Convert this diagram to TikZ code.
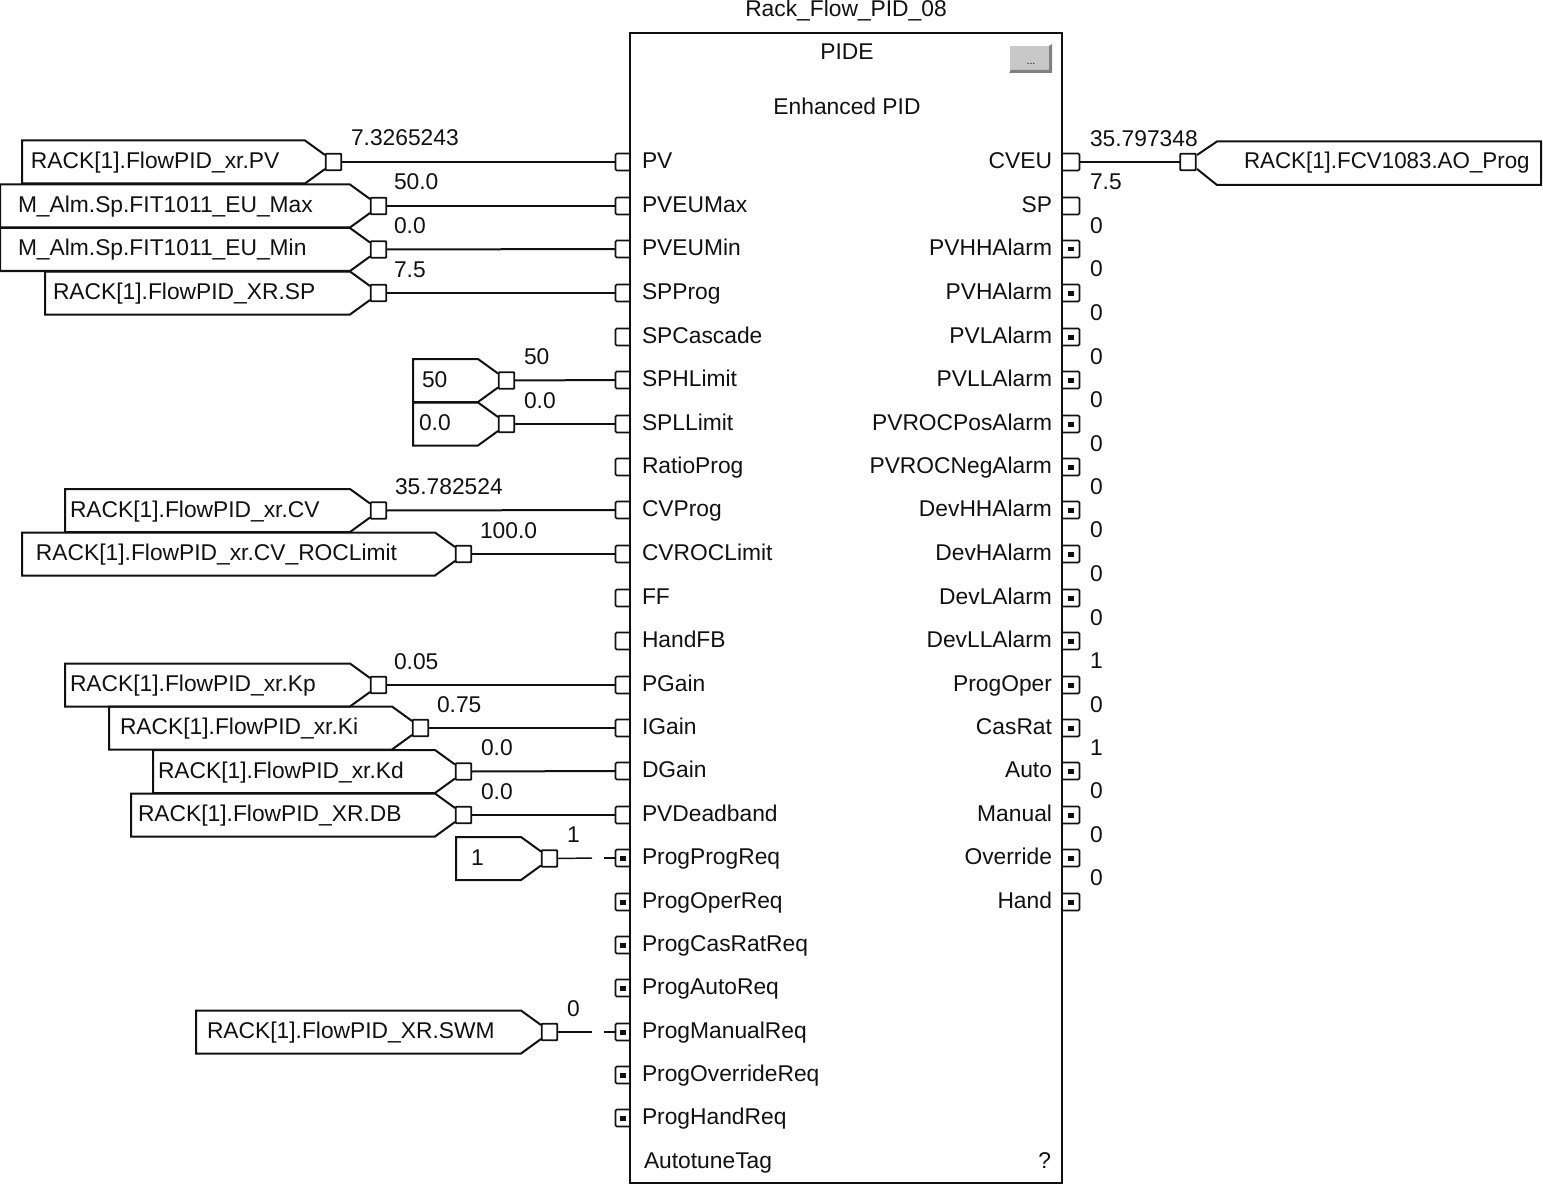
\documentclass[tikz,border=0pt]{standalone}
\usepackage{fontspec}
\setmainfont{Liberation Sans}
\definecolor{ink}{HTML}{111111}
\definecolor{btn}{HTML}{C8C8C8}
\definecolor{btnd}{HTML}{808080}
\tikzset{
  lab/.style={inner sep=0pt,outer sep=0pt,text=ink,font=\fontsize{17.1pt}{20pt}\selectfont},
  sq/.style={draw=ink,line width=1.4pt,rectangle,rounded corners=0.6pt,minimum width=11.6pt,minimum height=12.4pt,inner sep=0pt,outer sep=0pt},
  outl/.style={draw=ink,line width=1.5pt},
  wire/.style={draw=ink,line width=1.5pt},
  thinwire/.style={draw=ink,line width=1.1pt},
  pinl/.style={draw=ink,line width=1.2pt,rounded corners=1pt},
}
% left input pin
\newcommand{\lpin}[4]{% id, row, kind(0 open,1 bool), text
  \coordinate (lp#1) at (615.5,#2);
  \draw[pinl] (630,#2-8.5) -- (615.5,#2-8.5) -- (615.5,#2+8.5) -- (630,#2+8.5);
  \ifnum#3=1 \fill[ink] (619.5,#2-2) rectangle (625.5,#2+2.5);\fi
  \node[lab,anchor=base west] (lt#1) at (642,#2+6.5) {#4};
}
% right output pin
\newcommand{\rpin}[5]{% id, row, kind, text, value
  \coordinate (rp#1) at (1079,#2);
  \draw[pinl] (1063,#2-8.5) -- (1079.5,#2-8.5) -- (1079.5,#2+8.5) -- (1063,#2+8.5);
  \ifnum#3=1 \fill[ink] (1068,#2-2) rectangle (1074,#2+2.5);\fi
  \node[lab,anchor=base east] (rt#1) at (1052,#2+6.5) {#4};
  \node[lab,anchor=base west] (rv#1) at (1090,#2+27.5) {#5};
}
% input tag: id,left,row,diag,textx,text,valx,value
\newcommand{\intag}[8]{%
  \draw[outl] (#4+20,#3-7) -- (#4,#3-21.5) -- (#2,#3-21.5) -- (#2,#3+21.5) -- (#4,#3+21.5) -- (#4+20,#3+7);
  \node[sq] (s#1) at (#4+28.5,#3) {};
  \node[lab,anchor=base west] (tt#1) at (#5,#3+6.5) {#6};
  \node[lab,anchor=base west] (tv#1) at (#7,#3-16) {#8};
}
\begin{document}
\begin{tikzpicture}[x=0.75pt,y=-0.75pt]
\useasboundingbox (0,0) rectangle (1543,1184);
% block
\draw[draw=ink,line width=1.2pt] (630,33) rectangle (1062,1183);
\node[lab,anchor=base] (title) at (846,16.5) {Rack\_Flow\_PID\_08};
\node[lab,anchor=base] (pide) at (847,60) {PIDE};
\node[lab,anchor=base] (enh) at (847,114.5) {Enhanced PID};
% button
\fill[btn] (1010,46) rectangle (1052,72);
\fill[btnd] (1049,46) -- (1052,44) -- (1052,73) -- (1009,73) -- (1011,70) -- (1049,70) -- cycle;
\node[inner sep=0pt,text=ink,font=\fontsize{8pt}{9pt}\selectfont] (dots) at (1031,64) {...};
% left pins
\foreach \i/\r/\k/\t in {1/162/0/PV,2/206/0/PVEUMax,3/249/0/PVEUMin,4/293/0/SPProg,5/337/0/SPCascade,6/380/0/SPHLimit,7/424/0/SPLLimit,8/467/0/RatioProg,9/510/0/CVProg,10/554/0/CVROCLimit,11/598/0/FF,12/641/0/HandFB,13/685/0/PGain,14/728/0/IGain,15/771/0/DGain,16/815/0/PVDeadband,17/858/1/ProgProgReq,18/902/1/ProgOperReq,19/945/1/ProgCasRatReq,20/988/1/ProgAutoReq,21/1032/1/ProgManualReq,22/1075/1/ProgOverrideReq,23/1118/1/ProgHandReq}{
  \lpin{\i}{\r}{\k}{\t}
}
\node[lab,anchor=base west] (auto) at (644,1168) {AutotuneTag};
\node[lab,anchor=base east] (q) at (1051,1168) {?};
% right pins
\foreach \i/\r/\k/\t/\v in {1/162/0/CVEU/7.5,2/206/0/SP/0,3/249/1/PVHHAlarm/0,4/293/1/PVHAlarm/0,5/337/1/PVLAlarm/0,6/380/1/PVLLAlarm/0,7/424/1/PVROCPosAlarm/0,8/467/1/PVROCNegAlarm/0,9/510/1/DevHHAlarm/0,10/554/1/DevHAlarm/0,11/598/1/DevLAlarm/0,12/641/1/DevLLAlarm/1,13/685/1/ProgOper/0,14/728/1/CasRat/1,15/771/1/Auto/0,16/815/1/Manual/0,17/858/1/Override/0}{
  \rpin{\i}{\r}{\k}{\t}{\v}
}
\coordinate (rp18) at (1079,902);
\draw[pinl] (1063,893.5) -- (1079.5,893.5) -- (1079.5,910.5) -- (1063,910.5);
\fill[ink] (1068,900) rectangle (1074,904.5);
\node[lab,anchor=base east] (rt18) at (1052,908.5) {Hand};
% input tags
\intag{a}{22}{162}{305}{31}{RACK[1].FlowPID\_xr.PV}{351}{7.3265243}
\intag{b}{0}{206}{350}{18}{M\_Alm.Sp.FIT1011\_EU\_Max}{394}{50.0}
\intag{c}{0}{249.5}{350}{18}{M\_Alm.Sp.FIT1011\_EU\_Min}{394}{0.0}
\intag{d}{45}{293}{350}{53}{RACK[1].FlowPID\_XR.SP}{394}{7.5}
\intag{e}{413}{380.5}{478}{422}{50}{524}{50}
\intag{f}{413}{424}{478}{419}{0.0}{524}{0.0}
\intag{g}{65}{510.5}{350}{70}{RACK[1].FlowPID\_xr.CV}{395}{35.782524}
\intag{h}{22}{554}{435}{36}{RACK[1].FlowPID\_xr.CV\_ROCLimit}{480}{100.0}
\intag{i}{65}{685}{350}{70}{RACK[1].FlowPID\_xr.Kp}{394}{0.05}
\intag{j}{109}{728}{392}{120}{RACK[1].FlowPID\_xr.Ki}{437}{0.75}
\intag{k}{153}{771.5}{435}{158}{RACK[1].FlowPID\_xr.Kd}{481}{0.0}
\intag{l}{131}{815}{435}{138}{RACK[1].FlowPID\_XR.DB}{481}{0.0}
\intag{m}{456}{858.5}{521}{471}{1}{567}{1}
\intag{n}{196}{1032}{521}{207}{RACK[1].FlowPID\_XR.SWM}{567}{0}
% output tag
\draw[outl] (1197,155) -- (1217,141.5) -- (1541,141.5) -- (1541,185) -- (1217,185) -- (1197,169);
\node[sq] (so) at (1188,162) {};
\node[lab,anchor=base west,xscale=0.98] (tto) at (1244,169) {RACK[1].FCV1083.AO\_Prog};
\node[lab,anchor=base west] (tvo) at (1090,147) {35.797348};
% connectors
\draw[wire] (sa.east) -- (lp1);
\draw[wire] (sb.east) -- (lp2);
\draw[wire] (sc.east) -- (lp3);
\draw[wire] (sd.east) -- (lp4);
\draw[wire] (se.east) -- (lp6);
\draw[wire] (sf.east) -- (lp7);
\draw[wire] (sg.east) -- (lp9);
\draw[wire] (sh.east) -- (lp10);
\draw[wire] (si.east) -- (lp13);
\draw[wire] (sj.east) -- (lp14);
\draw[wire] (sk.east) -- (lp15);
\draw[thinwire] (sl.east) -- (lp16);
\coordinate (gm1) at (592,858);
\coordinate (gm2) at (604,858);
\draw[thinwire] (sm.east) -- (gm1);
\draw[thinwire] (gm2) -- (lp17);
\coordinate (gn1) at (592,1032);
\coordinate (gn2) at (604,1032);
\draw[thinwire] (sn.east) -- (gn1);
\draw[thinwire] (gn2) -- (lp21);
\draw[wire] (rp1) -- (so.west);
\end{tikzpicture}
\end{document}
